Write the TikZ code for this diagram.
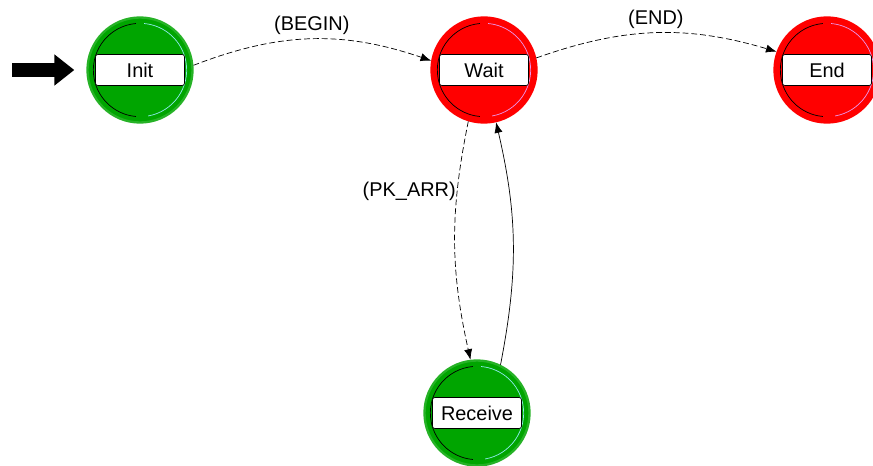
\documentclass[tikz,border=0pt]{standalone}
\usepackage{fontspec}
\setmainfont{Liberation Sans}
\usetikzlibrary{arrows.meta}
\definecolor{st_green}{RGB}{0, 165, 0}
\definecolor{st_red}{RGB}{255, 0, 0}
\definecolor{st_cyan}{RGB}{140, 235, 235}
\definecolor{st_pink}{RGB}{235, 150, 235}
\tikzstyle{gs}=[circle,fill=st_green,draw=st_green!85!white,
  line width=2pt,inner sep=0pt,minimum size=3.15cm]
\tikzstyle{rs}=[circle,fill=st_red,draw=st_red,
  line width=2pt,inner sep=0pt,minimum size=3.15cm]
\tikzstyle{lbl}=[rectangle,rounded corners=2pt,fill=white,draw=black,
  line width=0.6pt,inner sep=0pt,minimum width=2.67cm,minimum height=0.93cm,
  font=\fontsize{17}{20}\selectfont]
\tikzstyle{tr}=[-{Latex[length=9pt,width=7pt]},line width=0.6pt]
\tikzstyle{trd}=[tr,dash pattern=on 5pt off 2.5pt]
\tikzstyle{tl}=[font=\fontsize{17}{20}\selectfont]
\tikzstyle{startarr}=[line width=0.42cm,-{Triangle[length=0.6cm,width=0.9cm]}]

\begin{document}
\begin{tikzpicture}[x=0.03cm,y=0.03cm]
    \useasboundingbox (0,0) rectangle (873,465);
    \node [style=gs] (init) at (140,395) {};
    \node [style=rs] (wait) at (484,395) {};
    \node [style=rs] (fin) at (827,395) {};
    \node [style=gs] (recv) at (477,52) {};
    \foreach \s/\c in {init/st_cyan, wait/st_pink, fin/st_pink, recv/st_cyan} {
      \draw [line width=0.6pt] ([shift={(95:1.4cm)}]\s.center)
        arc [start angle=95, end angle=265, radius=1.4cm];
      \draw [\c, line width=0.6pt] ([shift={(-80:1.4cm)}]\s.center)
        arc [start angle=-80, end angle=85, radius=1.4cm];
    }
    \node [style=lbl] (initlbl) at (init) {Init};
    \node [style=lbl] (waitlbl) at (wait) {Wait};
    \node [style=lbl] (finlbl) at (fin) {End};
    \node [style=lbl] (recvlbl) at (recv) {Receive};
    \coordinate (entry) at (12,395);
    \draw [style=startarr] (entry) -- ([xshift=-0.36cm]init.west);
    \draw [style=trd] (init.5) to [bend left=20]
      node [tl, midway, above] (begin) {(BEGIN)} (wait.170);
    \draw [style=trd] (wait.13) to [bend left=18]
      node [tl, midway, above] (endlab) {(END)} (fin.160);
    \draw [style=trd] (wait.253) to [bend right=12]
      node [tl, pos=0.28, left, inner sep=1pt] (pkarr) {(PK\_ARR)} (recv.97);
    \draw [style=tr] (recv.64) to [bend right=12] (wait.283);
  \end{tikzpicture}
\end{document}
